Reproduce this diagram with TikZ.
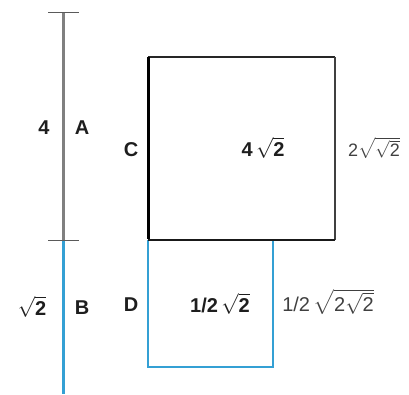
\documentclass[tikz,border=0pt]{standalone}
\usepackage{amsmath}
\usepackage{fontspec}
\setmainfont{Liberation Sans}
\definecolor{lgray}{RGB}{128,128,128}
\definecolor{lblue}{RGB}{52,160,212}
\definecolor{txt}{RGB}{30,30,30}
\begin{document}
\begin{tikzpicture}[x=1pt,y=-1pt,
  lbl/.style={font=\fontsize{20}{20}\selectfont\bfseries,text=txt,inner sep=0pt},
  lbln/.style={font=\fontsize{20}{20}\selectfont,text=txt!85,inner sep=0pt},
  tick/.style={draw=lgray!70!black,line width=1pt}]
\useasboundingbox (0,0) rectangle (409,394);
% coordinates
\coordinate (Ltop) at (63,12);
\coordinate (Lmid) at (63,240);
\coordinate (Lbot) at (63,394);
\coordinate (S1) at (148,57);
\coordinate (S2) at (335,57);
\coordinate (S3) at (335,240);
\coordinate (S4) at (148,240);
\coordinate (R1) at (148,367);
\coordinate (R2) at (273,367);
\coordinate (R3) at (273,240);
% vertical line
\draw[lgray,line width=3pt] (Ltop) -- (Lmid);
\draw[lblue,line width=3pt] (Lmid) -- (Lbot);
\draw[tick] (48,12) -- (79,12);
\draw[tick] (48,240) -- (79,240);
% small blue rectangle
\draw[lblue,line width=2.5pt] (S4) -- (R1) -- (R2) -- (R3);
% big square
\draw[black!85,line width=1.5pt] (S1) -- (S2);
\draw[black!75,line width=1.5pt] (S2) -- (S3);
\draw[black!90,line width=1.5pt] (S3) -- (S4);
\draw[black,line width=3pt] (S1) -- ([yshift=0.75pt]S4);
% labels
\node[lbl] (n4) at (44,128) {4};
\node[lbl] (nA) at (82,128) {A};
\node[lbl] (nC) at (131,150) {C};
\node[lbl] (n4r) at (263,148) {4\,$\sqrt{\text{\bfseries 2}}$};
\node[lbln,font=\fontsize{18}{18}\selectfont] (n2r) at (374,148) {2$\sqrt{\sqrt{\text{2}}}$};
\node[lbl] (nr2) at (32,307) {$\sqrt{\text{\bfseries 2}}$};
\node[lbl] (nB) at (82,308) {B};
\node[lbl] (nD) at (131,305) {D};
\node[lbl] (nh) at (220,304) {1/2\,$\sqrt{\text{\bfseries 2}}$};
\node[lbln] (nhh) at (328,302) {1/2\,$\sqrt{\text{2}\sqrt{\text{2}}}$};
\end{tikzpicture}
\end{document}
